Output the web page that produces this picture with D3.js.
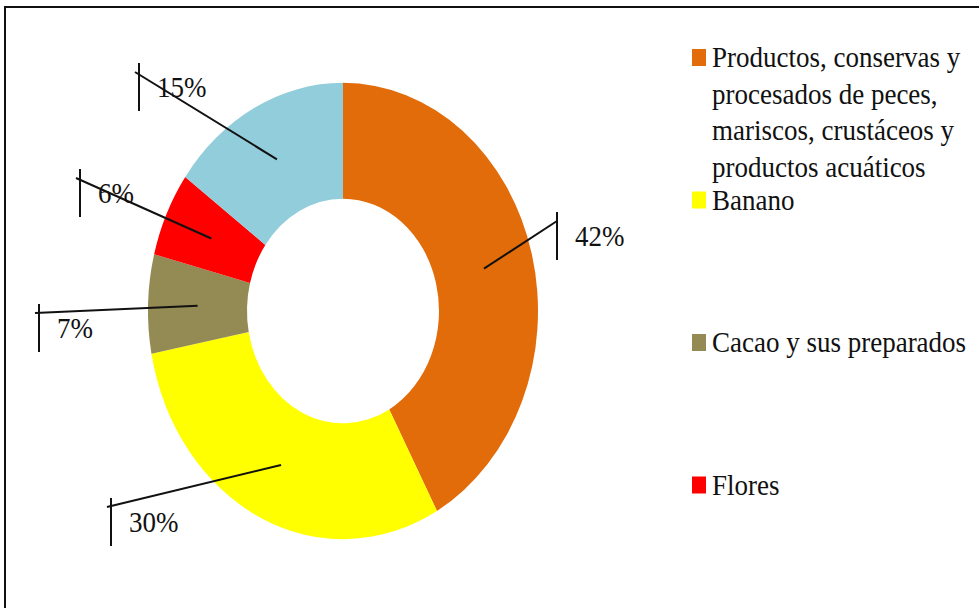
<!DOCTYPE html>
<html><head><meta charset="utf-8">
<script src="https://cdn.jsdelivr.net/npm/d3@7"></script>
<style>html,body{margin:0;padding:0;background:#fff;}svg{display:block;}</style>
</head><body>
<svg id="c" width="979" height="608"></svg>
<script>
// ---- data ----
const categories = [
  "Productos, conservas y procesados de peces, mariscos, crustáceos y productos acuáticos",
  "Banano",
  "Cacao y sus preparados",
  "Flores",
  "Otros"
];
// legend entries visible in the chart (the fifth falls outside the frame)
const legendLines = [
  ["Productos, conservas y", "procesados de peces,", "mariscos, crustáceos y", "productos acuáticos"],
  ["Banano"],
  ["Cacao y sus preparados"],
  ["Flores"]
];
const values = [42, 30, 7, 6, 15];
const colors = ["#E36C0A", "#FFFF00", "#948A54", "#FF0000", "#92CDDC"];
// label elbow positions (annotation layout), one per slice
const labelAnchors = [[557, 221], [111, 507], [39, 313], [80, 178], [139, 72]];

// ---- layout ----
const W = 979, H = 608;
const cx = 343, cy = 311, sy = 1.17, tsy = 1.1;
const rOuter = 195, rInner = 96;
const FONT = "Liberation Serif";
const labelSize = 27, legendSize = 27;
const svg = d3.select("#c");
svg.append("rect").attr("width", W).attr("height", H).attr("fill", "#fff");

svg.append("path").attr("d", `M5,${H} L5,7 L${W},7`).attr("fill", "none")
  .attr("stroke", "#111").attr("stroke-width", 2);

const pie = d3.pie().sort(null).value(d => d)(values);
const arc = d3.arc().innerRadius(rInner).outerRadius(rOuter);

const g = svg.append("g").attr("transform", `translate(${cx},${cy}) scale(1,${sy})`);
g.selectAll("path.slice").data(pie).join("path")
  .attr("class", "slice")
  .attr("d", arc)
  .attr("fill", (d, i) => colors[i]);

const fmt = d3.format(".0%");
const total = d3.sum(values);

pie.forEach((d, i) => {
  const c = arc.centroid(d);
  const sx0 = cx + c[0], sy0 = cy + c[1] * sy;
  const [ax, ay] = labelAnchors[i];
  const right = ax > cx;
  const ex = right ? ax : ax - 4;
  svg.append("line").attr("x1", sx0).attr("y1", sy0).attr("x2", ex).attr("y2", ay)
    .attr("stroke", "#111").attr("stroke-width", 2);
  svg.append("line").attr("x1", ax).attr("y1", ay - 9).attr("x2", ax).attr("y2", ay + 39)
    .attr("stroke", "#111").attr("stroke-width", 2);
  svg.append("text")
    .attr("transform", `translate(${ax + 18},${ay + 25}) scale(1,${tsy})`)
    .style("font-family", FONT).style("font-size", labelSize + "px")
    .attr("fill", "#111")
    .text(fmt(d.data / total));
});

const lx = 692, ltx = 712, ly0 = 67, itemGap = 142.5, lineGap = 36.5;
legendLines.forEach((lines, i) => {
  const by = ly0 + i * itemGap;
  svg.append("rect").attr("x", lx).attr("y", by - 18).attr("width", 14).attr("height", 17)
    .attr("fill", colors[i]);
  lines.forEach((t, j) => {
    svg.append("text")
      .attr("transform", `translate(${ltx},${by + j * lineGap}) scale(1,${tsy})`)
      .style("font-family", FONT).style("font-size", legendSize + "px")
      .attr("fill", "#111")
      .text(t);
  });
});
</script>
</body></html>
